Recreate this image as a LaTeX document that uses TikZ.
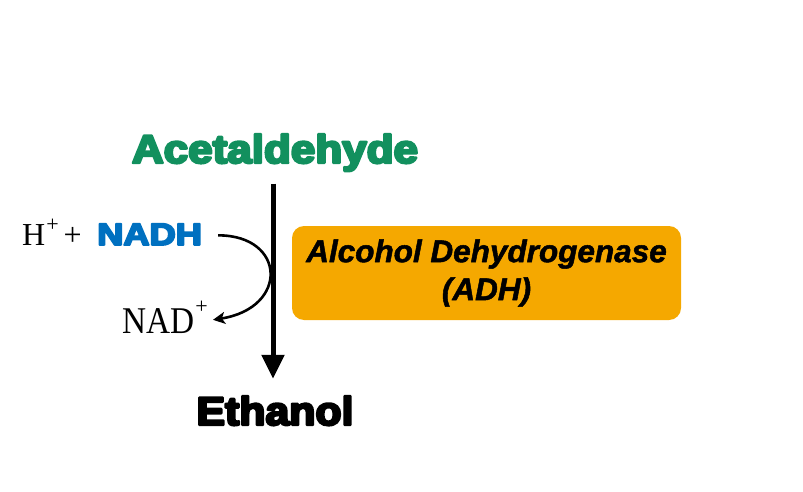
\documentclass[tikz,border=0pt]{standalone}
\usepackage{fontspec}
\setmainfont{Liberation Serif}
\setsansfont{Liberation Sans}
\newfontfamily\heavyfont{Liberation Sans Bold}
\usetikzlibrary{arrows.meta}
\definecolor{acgreen}{HTML}{12905E}
\definecolor{nadblue}{HTML}{0070C0}
\definecolor{adhorange}{HTML}{F5A800}
\newcommand{\supplus}[1]{\raisebox{#1}{\fontsize{22}{22}\selectfont +}}
\newcommand{\thicktext}[2]{\special{pdf:literal direct 1 j #1 w 2 Tr}#2\special{pdf:literal direct 0 Tr}}
\begin{document}
\begin{tikzpicture}[x=1pt,y=-1pt,
  big/.style={inner sep=0pt,anchor=base,font=\heavyfont\fontsize{40}{44}\selectfont},
  serif/.style={inner sep=0pt,font=\fontsize{32}{36}\selectfont},
  enzyme/.style={fill=adhorange,rounded corners=12pt,minimum width=389pt,minimum height=94pt,
    align=center,inner sep=0pt,font=\sffamily\bfseries\itshape\fontsize{31.5}{38}\selectfont}]
\useasboundingbox (0,0) rectangle (803,492);
\node[big,xscale=1.1,text=acgreen] (acet) at (275,163) {\color{acgreen}\thicktext{2.4}{Acetaldehyde}};
\node[big,xscale=1.07,text=black] (eth) at (275,425) {\color{black}\thicktext{2.4}{Ethanol}};
\node[serif,anchor=base west] (hplus) at (22,245) {H\kern1pt\supplus{14pt}\kern5pt+};
\node[inner sep=0pt,anchor=base west,text=nadblue,font=\heavyfont\fontsize{31}{34}\selectfont] (nadh) at (97,245) {\color{nadblue}\scalebox{1.17}[1]{\thicktext{1.8}{NADH}}};
\node[serif,anchor=base east] (nad) at (208,333) {\scalebox{1.04}[1.18]{NAD}\kern1pt\supplus{20pt}};
\node[enzyme] (adh) at (486.5,273) {\color{black}\thicktext{0.5}{Alcohol Dehydrogenase}\\\thicktext{0.5}{(ADH)}};
\draw[line width=5pt,-{Triangle[width=22pt,length=24pt]},shorten <=12pt,shorten >=17pt]
  ([xshift=-2pt]acet.south) -- ([xshift=-2pt]eth.north);
\draw[line width=2.6pt,-{Stealth[length=12pt,width=12pt,inset=3pt]}]
  ([xshift=16pt,yshift=-1pt]nadh.east) .. controls +(68,0) and +(76,-12) .. ([xshift=5pt,yshift=-3pt]nad.east);
\end{tikzpicture}
\end{document}
